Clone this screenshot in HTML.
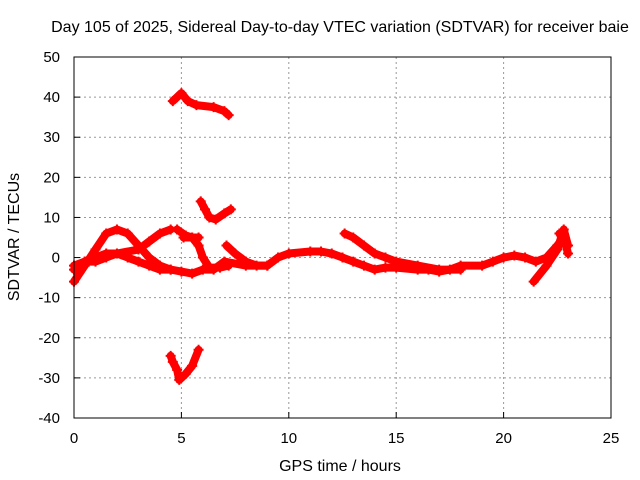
<!DOCTYPE html>
<html><head><meta charset="utf-8"><style>
body{margin:0;background:#fff;}
svg{display:block;font-family:"Liberation Sans",sans-serif;}
</style></head><body>
<svg id="chart" width="640" height="480">
<text x="340" y="32" font-size="16" text-anchor="middle">Day 105 of 2025, Sidereal Day-to-day VTEC variation (SDTVAR) for receiver baie</text>
<text x="340" y="471" font-size="16" text-anchor="middle">GPS time / hours</text>
<text x="19" y="237" font-size="16" text-anchor="middle" transform="rotate(-90 19 237)">SDTVAR / TECUs</text>
<g id="grid"></g><g id="ticks"></g><g id="series"></g>
<rect x="74" y="57" width="537" height="361" fill="none" stroke="#000" stroke-width="1"/>
</svg>
<script>
const xTicks=[0,5,10,15,20,25];
const yTicks=[-40,-30,-20,-10,0,10,20,30,40,50];
const trackMain=[[0,-3],[0.5,-1],[1,-1],[1.5,0],[2,1],[2.5,0],[3,-1],[3.5,-2],[4,-3],[4.5,-3],[5,-3.5],[5.5,-4],[6,-3],[6.5,-3],[7,-1],[8,-2],[9,-2],[9.5,0],[10,1],[11,1.5],[11.5,1.5],[12,1],[12.5,0],[13,-1],[13.5,-2],[14,-3],[14.5,-2.5],[15,-2.5],[16,-3],[16.5,-3],[17,-3.5],[17.5,-3],[18,-2],[19,-2],[19.5,-1],[20,0],[20.5,0.5],[21,0],[21.5,-1],[22,0],[22.5,3],[22.8,5]];
const trackRise=[[0,-6],[0.5,-2],[1,2],[1.5,6],[2,7],[2.5,6],[3,3],[3.5,0],[4,-2],[4.5,-3]];
const trackUpper=[[0,-2],[0.5,-1],[1,0],[1.5,1],[2,1],[3,2],[3.5,4],[4,6],[4.5,7]];
const trackDrop=[[4.8,7],[5.2,5.5],[5.5,5],[5.8,3],[6,0],[6.3,-2.5],[6.8,-2.5],[7.2,-2]];
const trackSmall=[[5.1,5],[5.5,5],[5.8,5]];
const trackAfter=[[7.1,3],[7.5,1],[8,-1],[8.5,-2],[9,-2]];
const trackLate=[[12.6,6],[13,5],[13.5,3],[14,1],[14.5,0],[15,-1],[16,-2],[17,-3],[18,-3]];
const trackEnd=[[21.4,-6],[22,-2],[22.5,2],[22.8,7],[23,3]];
const trackEnd2=[[22.6,6],[22.9,3],[23,1]];
const trackTop=[[4.6,39],[5,41],[5.3,39],[5.7,38],[6.5,37.5],[7,36.5],[7.2,35.5]];
const trackMid=[[5.9,14],[6.1,12],[6.3,10],[6.6,9.5],[7,11],[7.3,12]];
const trackBottom=[[4.5,-24.5],[4.6,-26],[4.8,-28],[4.9,-30.5],[5.2,-29],[5.5,-27],[5.8,-23]];
const tracks=[trackMain,trackRise,trackUpper,trackDrop,trackSmall,trackAfter,trackLate,trackEnd,trackEnd2,trackTop,trackMid,trackBottom];
const NS="http://www.w3.org/2000/svg";
function X(t){return 74+t*537/25;}
function Y(v){return 418-(v+40)*361/90;}
function mk(tag,attrs,parent){const e=document.createElementNS(NS,tag);for(const k in attrs)e.setAttribute(k,attrs[k]);parent.appendChild(e);return e;}
const grid=document.getElementById('grid'),ticks=document.getElementById('ticks'),ser=document.getElementById('series');
xTicks.forEach(t=>{
  if(t>0&&t<25){const l=mk('line',{x1:X(t),x2:X(t),y1:57,y2:418,stroke:'#999','stroke-dasharray':'2,3'},grid);
  
  }
  const tk=mk('line',{x1:X(t),x2:X(t),y1:418,y2:412,stroke:'#000'},ticks);
  
  
  const tx=mk('text',{x:X(t),y:443,'font-size':15,'text-anchor':'middle'},ticks);tx.textContent=t;
  
  
});
yTicks.forEach(v=>{
  if(v>-40&&v<50){const l=mk('line',{x1:74,x2:611,y1:Y(v),y2:Y(v),stroke:'#999','stroke-dasharray':'2,3'},grid);
  
  }
  const tk=mk('line',{x1:74,x2:80,y1:Y(v),y2:Y(v),stroke:'#000'},ticks);
  
  
  const tx=mk('text',{x:60,y:Y(v)+5,'font-size':15,'text-anchor':'end'},ticks);tx.textContent=v;
  
  
});
tracks.forEach(tr=>{
  const p=mk('polyline',{points:tr.map(d=>X(d[0])+','+Y(d[1])).join(' '),fill:'none',stroke:'#f00','stroke-width':8,'stroke-linejoin':'round','stroke-linecap':'round'},ser);
  
  
  tr.forEach(d=>{
    const m=mk('path',{d:`M${X(d[0])-5},${Y(d[1])}h10M${X(d[0])},${Y(d[1])-5}v10`,stroke:'#f00','stroke-width':2},ser);
    
    
  });
});
</script>
</body></html>
